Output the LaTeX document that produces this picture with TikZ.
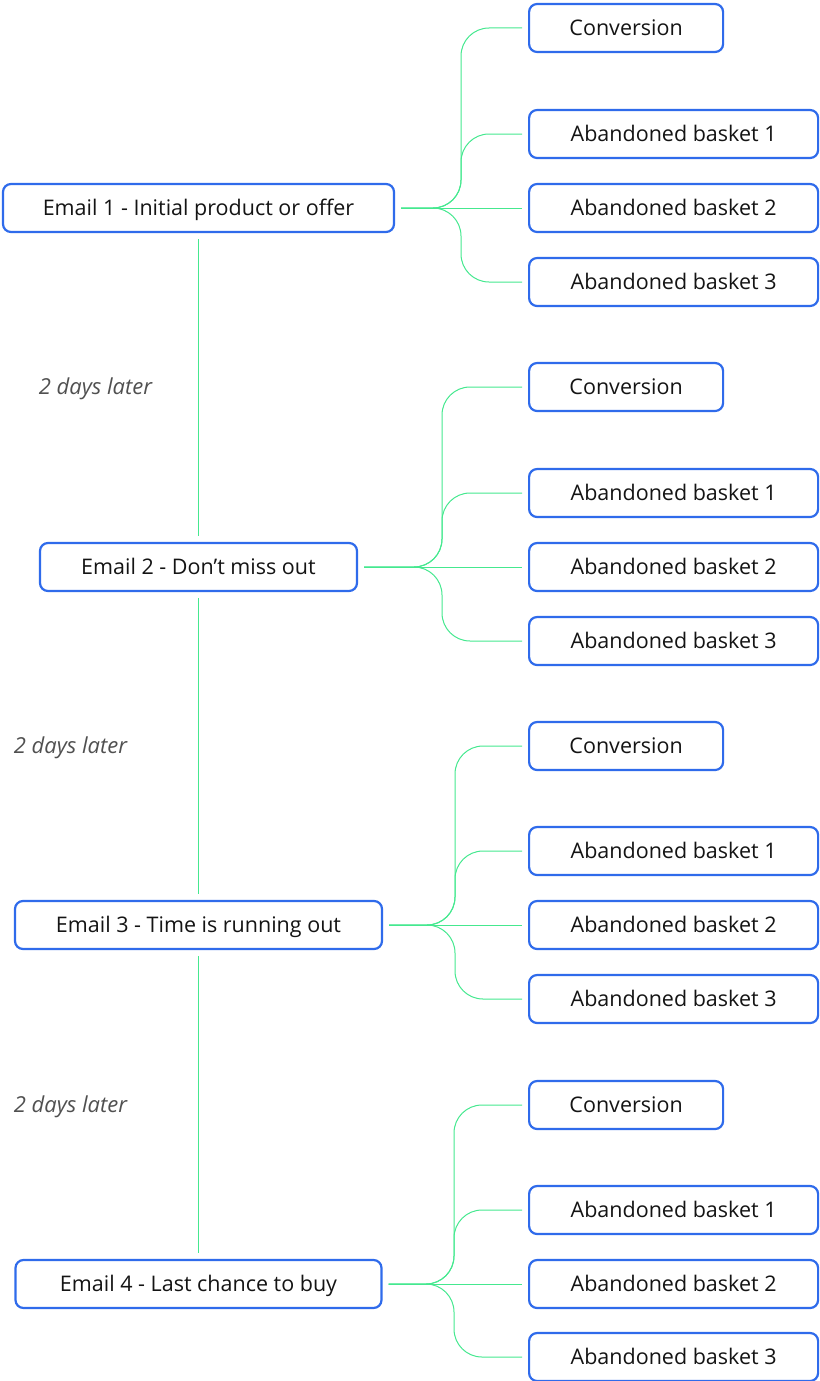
\documentclass[tikz,border=0pt]{standalone}
\usepackage{fontspec}
\setmainfont{Open Sans}
\usetikzlibrary{positioning}
\definecolor{boxblue}{HTML}{2F6BEB}
\definecolor{linkgreen}{HTML}{45E88F}
\definecolor{notegray}{HTML}{505050}

\begin{document}
\begin{tikzpicture}[x=1pt, y=-1pt,
  every node/.style={font=\fontsize{21.5}{25}\selectfont, text=black!92, text height=15.4pt, text depth=0pt},
  email/.style={rectangle, draw=boxblue, line width=2.2pt, rounded corners=8pt, minimum height=48pt, inner sep=0pt},
  result/.style={email, anchor=west},
  note/.style={font=\fontsize{22}{26}\selectfont\itshape, text=notegray},
  link/.style={draw=linkgreen, line width=1pt, rounded corners=28pt, shorten <=6pt, shorten >=6pt}]

\useasboundingbox (0,0) rectangle (819,1381);

% emails
\node[email, minimum width=391pt] (e1) at (198.5,208) {Email 1 - Initial product or offer};
\node[email, minimum width=317pt] (e2) at (198.5,567) {Email 2 - Don’t miss out};
\node[email, minimum width=367pt] (e3) at (198.5,925) {Email 3 - Time is running out};
\node[email, minimum width=366pt] (e4) at (198.5,1284) {Email 4 - Last chance to buy};

% delays
\node[note] (later1) at (95.5,387) {2 days later};
\node[note] (later2) at (70.5,746) {2 days later};
\node[note] (later3) at (70.5,1105) {2 days later};

% outcomes of email 1
\node[result, minimum width=194pt] (conv1) at (528,28) {Conversion};
\node[result, minimum width=289pt] (basket1a) at (528,134) {Abandoned basket 1};
\node[result, minimum width=289pt] (basket1b) at (528,208) {Abandoned basket 2};
\node[result, minimum width=289pt] (basket1c) at (528,282) {Abandoned basket 3};

% outcomes of email 2
\node[result, minimum width=194pt] (conv2) at (528,387) {Conversion};
\node[result, minimum width=289pt] (basket2a) at (528,493) {Abandoned basket 1};
\node[result, minimum width=289pt] (basket2b) at (528,567) {Abandoned basket 2};
\node[result, minimum width=289pt] (basket2c) at (528,641) {Abandoned basket 3};

% outcomes of email 3
\node[result, minimum width=194pt] (conv3) at (528,746) {Conversion};
\node[result, minimum width=289pt] (basket3a) at (528,851) {Abandoned basket 1};
\node[result, minimum width=289pt] (basket3b) at (528,925) {Abandoned basket 2};
\node[result, minimum width=289pt] (basket3c) at (528,999) {Abandoned basket 3};

% outcomes of email 4
\node[result, minimum width=194pt] (conv4) at (528,1105) {Conversion};
\node[result, minimum width=289pt] (basket4a) at (528,1210) {Abandoned basket 1};
\node[result, minimum width=289pt] (basket4b) at (528,1284) {Abandoned basket 2};
\node[result, minimum width=289pt] (basket4c) at (528,1357) {Abandoned basket 3};

% branch points
\coordinate (fork1) at (461,208);
\coordinate (fork2) at (442,567);
\coordinate (fork3) at (455,925);
\coordinate (fork4) at (454,1284);

\draw[link] (e1.south) -- (e2.north);
\draw[link] (e2.south) -- (e3.north);
\draw[link] (e3.south) -- (e4.north);

\draw[link] (e1.east) -- (fork1) |- (conv1.west);
\draw[link] (e1.east) -- (fork1) |- (basket1a.west);
\draw[link] (e1.east) -- (basket1b.west);
\draw[link] (e1.east) -- (fork1) |- (basket1c.west);

\draw[link] (e2.east) -- (fork2) |- (conv2.west);
\draw[link] (e2.east) -- (fork2) |- (basket2a.west);
\draw[link] (e2.east) -- (basket2b.west);
\draw[link] (e2.east) -- (fork2) |- (basket2c.west);

\draw[link] (e3.east) -- (fork3) |- (conv3.west);
\draw[link] (e3.east) -- (fork3) |- (basket3a.west);
\draw[link] (e3.east) -- (basket3b.west);
\draw[link] (e3.east) -- (fork3) |- (basket3c.west);

\draw[link] (e4.east) -- (fork4) |- (conv4.west);
\draw[link] (e4.east) -- (fork4) |- (basket4a.west);
\draw[link] (e4.east) -- (basket4b.west);
\draw[link] (e4.east) -- (fork4) |- (basket4c.west);

\end{tikzpicture}
\end{document}
